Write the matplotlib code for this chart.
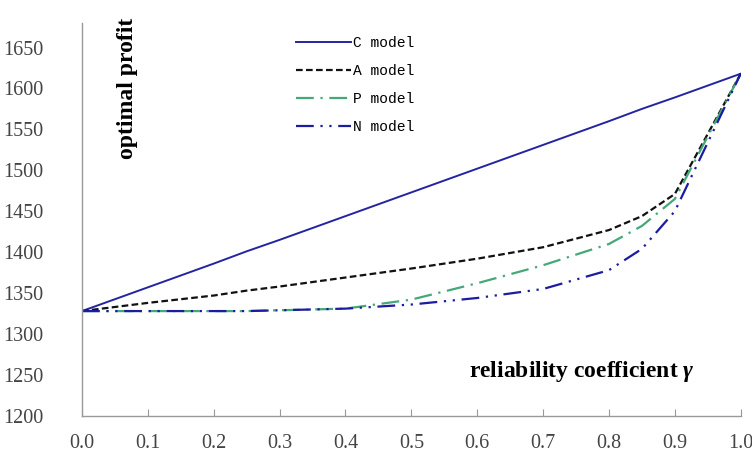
import matplotlib
matplotlib.use("Agg")
import matplotlib.pyplot as plt
import numpy as np

plt.rcParams["mathtext.fontset"] = "custom"
plt.rcParams["mathtext.it"] = "Liberation Serif:italic:bold"

# ── Data ─────────────────────────────────────────────────────────────────────
gamma = [0.0, 0.1, 0.2, 0.25, 0.3, 0.4, 0.5, 0.6, 0.7, 0.8, 0.85, 0.9, 1.0]
c_model = [1328, 1357, 1386, 1401, 1415, 1444, 1473, 1502, 1531, 1560, 1575, 1589, 1618]
a_model = [1328, 1338, 1347, 1353, 1358, 1369, 1380, 1392, 1406, 1427, 1444, 1471, 1618]
p_model = [1328, 1328, 1328, 1328, 1329, 1331, 1342, 1362, 1384, 1410, 1432, 1465, 1618]
n_model = [1328, 1328, 1328, 1328, 1329, 1331, 1336, 1344, 1355, 1378, 1404, 1450, 1618]

x_ticks = np.round(np.arange(0, 1.01, 0.1), 1)
y_ticks = list(range(1200, 1651, 50))

fig = plt.figure(figsize=(7.52, 4.59), dpi=100)
ax = fig.add_axes([0.109, 0.094, 0.876, 0.856])

ax.plot(gamma, c_model, color="#2424a0", lw=1.4, ls="-", label="C model")
ax.plot(gamma, a_model, color="#111111", lw=1.6, ls=(0, (3, 1.5)), label="A model")
ax.plot(gamma, p_model, color="#45a878", lw=1.6, ls=(0, (8, 3, 1, 3)), label="P model")
ax.plot(gamma, n_model, color="#1c1ca0", lw=1.6, ls=(0, (8, 3, 1, 3, 1, 3)), label="N model")

ax.set_xlim(0, 1.0)
ax.set_ylim(1200, 1680)
ax.set_xticks(x_ticks)
ax.set_xticklabels([f"{v:.1f}" for v in x_ticks], fontfamily="Liberation Serif",
                   fontsize=14.5, color="#444444")
ax.set_yticks(y_ticks)
ax.set_yticklabels([str(v) for v in y_ticks], fontfamily="Liberation Serif",
                   fontsize=14.5, color="#444444")
ax.tick_params(axis="x", direction="in", length=5, color="#999999", pad=13)
ax.tick_params(axis="y", length=0, pad=28)

for s in ("top", "right"):
    ax.spines[s].set_visible(False)
for s in ("left", "bottom"):
    ax.spines[s].set_color("#999999")
    ax.spines[s].set_linewidth(1.0)

fig.text(128 / 752, 1 - 88 / 459, "optimal profit", rotation=90, ha="center", va="center",
         fontfamily="Liberation Serif", fontweight="bold", fontsize=17)
fig.text(582 / 752, 1 - 371 / 459, r"reliability coefficient $\gamma$",
         ha="center", va="center", fontfamily="Liberation Serif", fontweight="bold", fontsize=17)

ax.legend(loc="upper left", bbox_to_anchor=(0.305, 1.0), frameon=False,
          prop={"family": "Liberation Mono", "size": 10.5}, handlelength=3.8,
          handletextpad=0.1, labelspacing=0.95)

fig.savefig("out.png", dpi=100)
